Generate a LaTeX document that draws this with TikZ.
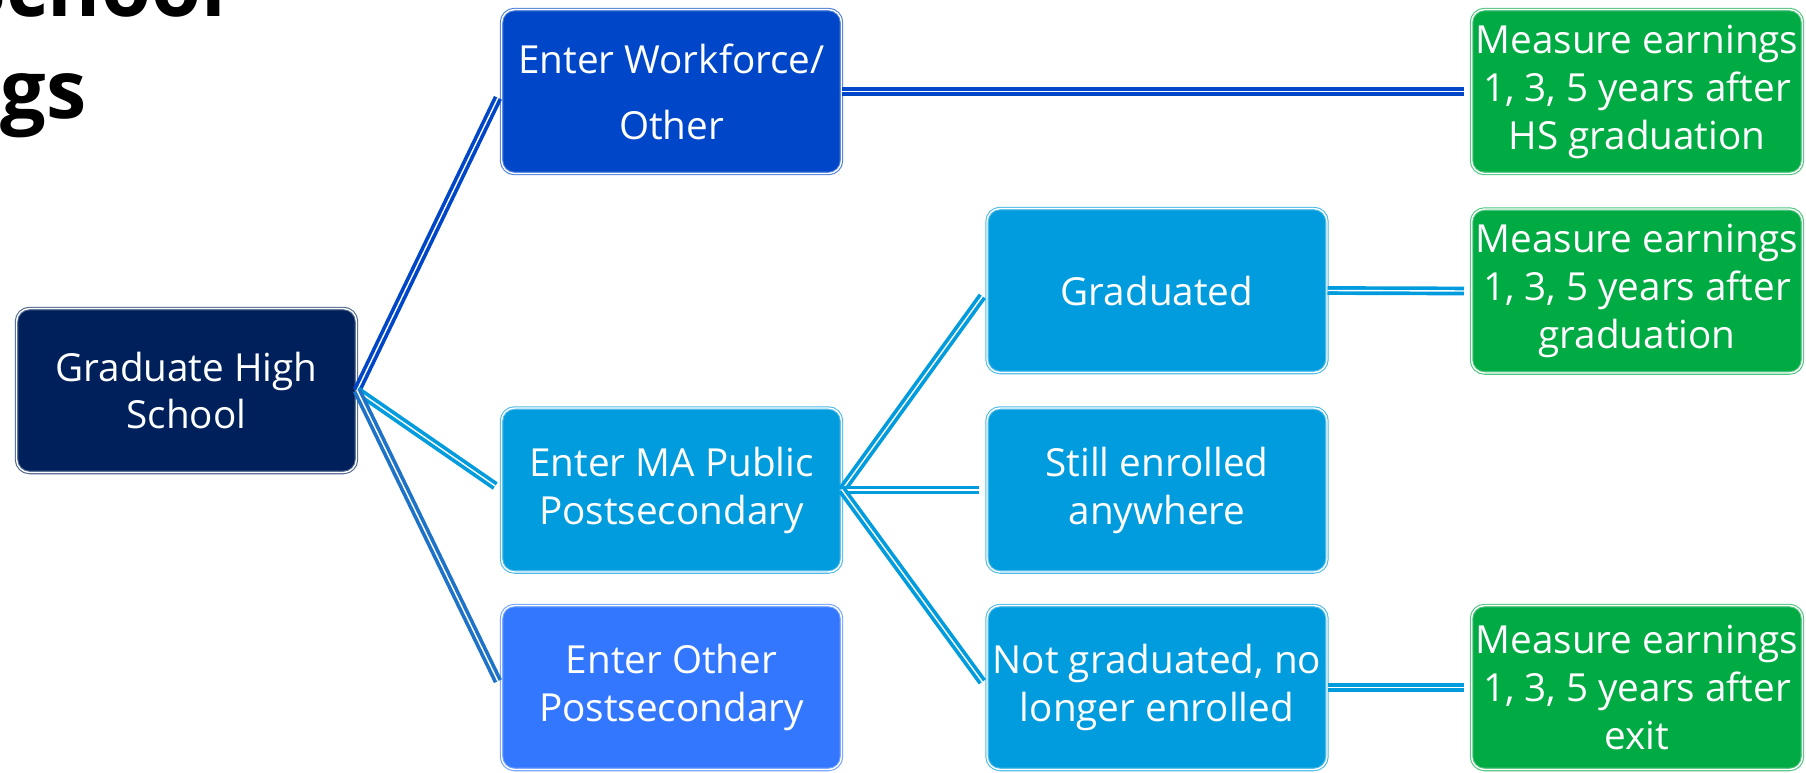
\documentclass[tikz,border=0pt]{standalone}
\usepackage{fontspec}
\setmainfont{Open Sans}
\usetikzlibrary{positioning}
\definecolor{mynavy}{RGB}{0,32,91}
\definecolor{myblue}{RGB}{0,70,200}
\definecolor{mycyan}{RGB}{0,156,222}
\definecolor{mysky}{RGB}{51,119,255}
\definecolor{mygreen}{RGB}{0,171,68}
\definecolor{mylink}{RGB}{30,115,200}

\begin{document}
\begin{tikzpicture}[x=0.02cm, y=-0.02cm,
    box/.style={rectangle, rounded corners=0.26cm, fill=#1, draw=#1!70!white,
      line width=0.6pt, double=white, double distance=0.8pt,
      minimum width=6.8cm, minimum height=3.28cm, inner sep=0pt, align=center,
      text=white, font=\fontsize{22}{27.3}\selectfont},
    earnbox/.style={box=mygreen, minimum width=6.62cm},
    link/.style={draw=#1, line width=2.1pt, double=white, double distance=0.8pt, shorten >=4pt}]
  \useasboundingbox (0,0) rectangle (1806,772);
  % cut-off title
  \node[anchor=base east, font=\fontsize{46}{54}\selectfont\bfseries] (titletop) at (232,16) {School};
  \node[anchor=base east, font=\fontsize{46}{54}\selectfont\bfseries] (titlebot) at (93,118) {Earnings};
  % boxes
  \node[box=mynavy] (ghs) at (186.5,390.5) {Graduate High\\School};
  \node[box=myblue] (work) at (671.5,91.5) {Enter Workforce/\\[0.36cm]Other};
  \node[box=mycyan] (ma) at (671.5,490) {Enter MA Public\\Postsecondary};
  \node[box=mysky] (other) at (671.5,687.5) {Enter Other\\Postsecondary};
  \node[box=mycyan] (grad) at (1157,290.5) {Graduated};
  \node[box=mycyan] (still) at (1157,490) {Still enrolled\\anywhere};
  \node[box=mycyan] (notgrad) at (1157,687.5) {Not graduated, no\\longer enrolled};
  \node[earnbox] (earnhs) at (1637,91.5) {Measure earnings\\1, 3, 5 years after\\HS graduation};
  \node[earnbox] (earngrad) at (1637,291) {Measure earnings\\1, 3, 5 years after\\graduation};
  \node[earnbox] (earnexit) at (1637,687.5) {Measure earnings\\1, 3, 5 years after\\exit};
  % connectors
  \draw[link=myblue] (ghs.east) -- (work.west);
  \draw[link=mycyan] (ghs.east) -- (ma.west);
  \draw[link=mylink] (ghs.east) -- (other.west);
  \draw[link=mycyan] (ma.east) -- (grad.west);
  \draw[link=mycyan] (ma.east) -- (still.west);
  \draw[link=mycyan] (ma.east) -- (notgrad.west);
  \draw[link=myblue] (work.east) -- (earnhs.west);
  \draw[link=mycyan] (grad.east) -- (earngrad.west);
  \draw[link=mycyan] (notgrad.east) -- (earnexit.west);
\end{tikzpicture}
\end{document}
